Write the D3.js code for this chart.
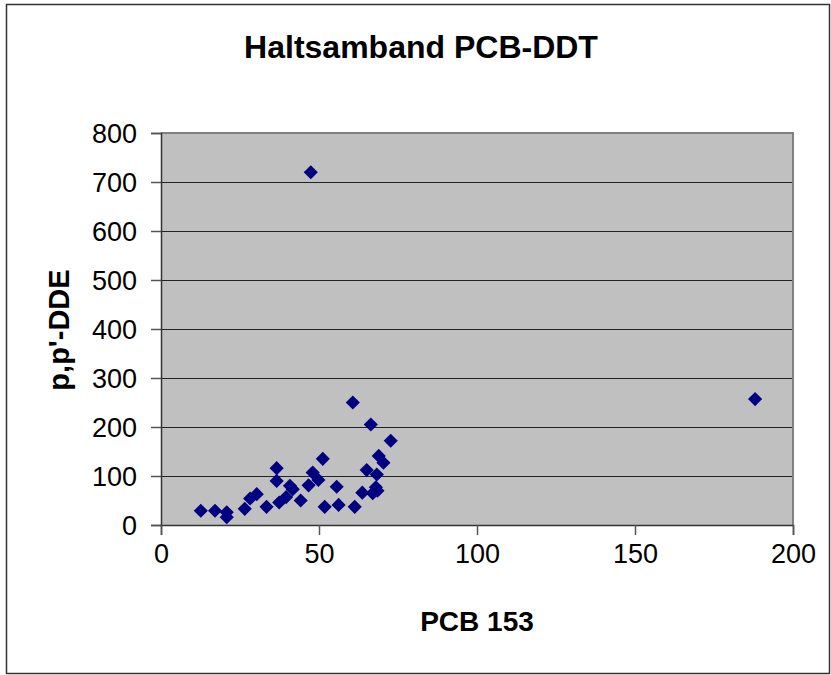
<!DOCTYPE html>
<html>
<head>
<meta charset="utf-8">
<script src="https://cdn.jsdelivr.net/npm/d3@7"></script>
<style>
  html, body { margin: 0; padding: 0; background: #ffffff; }
  svg { display: block; }
  text { font-family: Arial, "Liberation Sans", sans-serif; fill: #000; }
</style>
</head>
<body>
<svg id="chart" width="831" height="675"></svg>
<script>
// ---- Data ----
const titleText = "Haltsamband PCB-DDT";
const xTitle = "PCB 153";
const yTitle = "p,p'-DDE";
const xTicks = [0, 50, 100, 150, 200];
const yTicks = [0, 100, 200, 300, 400, 500, 600, 700, 800];
const pcb153 = [12.6, 17.1, 20.8, 20.8, 26.5, 28.2, 30.3, 33.4, 36.6, 36.6, 37.4, 39.6, 40.8, 41.7, 44.2, 46.7, 48.0, 49.8, 51.2, 51.8, 55.6, 56.2, 60.7, 61.3, 63.7, 65.1, 66.4, 67.0, 68.3, 68.0, 68.9, 70.4, 72.7, 68.5, 47.4, 188.0];
const ppDDE  = [29, 29, 26, 16, 33, 54, 63, 37, 116, 90, 46, 57, 80, 73, 50, 81, 107, 92, 135, 37, 78, 41, 250, 37, 66, 112, 205, 65, 103, 77, 141, 127, 172, 70, 720, 257];

// ---- Layout ----
const svg = d3.select("#chart");
const plot = { left: 161, right: 793, top: 133, bottom: 525 };

// outer frame
svg.append("rect")
  .attr("x", 6.5).attr("y", 4.5)
  .attr("width", 823).attr("height", 669)
  .attr("fill", "#fff").attr("stroke", "#333").attr("stroke-width", 1.5);

const x = d3.scaleLinear().domain([0, 200]).range([plot.left, plot.right]);
const y = d3.scaleLinear().domain([0, 800]).range([plot.bottom, plot.top]);

// plot area background
svg.append("rect")
  .attr("x", plot.left).attr("y", plot.top)
  .attr("width", plot.right - plot.left).attr("height", plot.bottom - plot.top)
  .attr("fill", "#C0C0C0");

// gridlines
svg.append("g").selectAll("line")
  .data(yTicks.filter(d => d > 0 && d < 800))
  .join("line")
  .attr("x1", plot.left).attr("x2", plot.right)
  .attr("y1", d => Math.round(y(d)) + 0.5).attr("y2", d => Math.round(y(d)) + 0.5)
  .attr("stroke", "#222").attr("stroke-width", 1);

// top & right border (gray)
svg.append("path")
  .attr("d", `M${plot.left},${plot.top} H${plot.right} V${plot.bottom}`)
  .attr("fill", "none").attr("stroke", "#808080").attr("stroke-width", 2);

// Axes
const yAxis = d3.axisLeft(y).tickValues(yTicks).tickSize(10).tickPadding(14).tickFormat(d3.format("d"));
const xAxis = d3.axisBottom(x).tickValues(xTicks).tickSize(10).tickPadding(9).tickFormat(d3.format("d"));

const gy = svg.append("g").attr("transform", `translate(${plot.left},0)`).call(yAxis);
const gx = svg.append("g").attr("transform", `translate(0,${plot.bottom})`).call(xAxis);

[gx, gy].forEach(g => {
  g.select(".domain").attr("stroke", "#333").attr("stroke-width", 1.5);
  g.selectAll(".tick line").attr("stroke", "#555").attr("stroke-width", 1.5);
  g.selectAll(".tick text")
    .attr("font-family", "Arial, 'Liberation Sans', sans-serif")
    .attr("font-size", 27).attr("fill", "#000");
});
gy.selectAll(".tick text").attr("dy", "0.36em");
gx.selectAll(".tick text").attr("dy", "0.71em");

// Points (diamonds)
const pts = pcb153.map((v, i) => ({ x: v, y: ppDDE[i] }));
const diamond = d3.symbol().type(d3.symbolSquare).size(100);
svg.append("g").selectAll("path")
  .data(pts)
  .join("path")
  .attr("d", diamond)
  .attr("transform", d => `translate(${x(d.x)},${y(d.y)}) rotate(45)`)
  .attr("fill", "#000080");

// Titles
svg.append("text")
  .attr("x", 421).attr("y", 58)
  .attr("text-anchor", "middle")
  .attr("font-size", 32).attr("font-weight", "bold")
  .text(titleText);

svg.append("text")
  .attr("x", 477).attr("y", 631)
  .attr("text-anchor", "middle")
  .attr("font-size", 28).attr("font-weight", "bold")
  .text(xTitle);

svg.append("text")
  .attr("transform", "translate(69,330) rotate(-90)")
  .attr("text-anchor", "middle")
  .attr("font-size", 29).attr("font-weight", "bold")
  .text(yTitle);
</script>
</body>
</html>
